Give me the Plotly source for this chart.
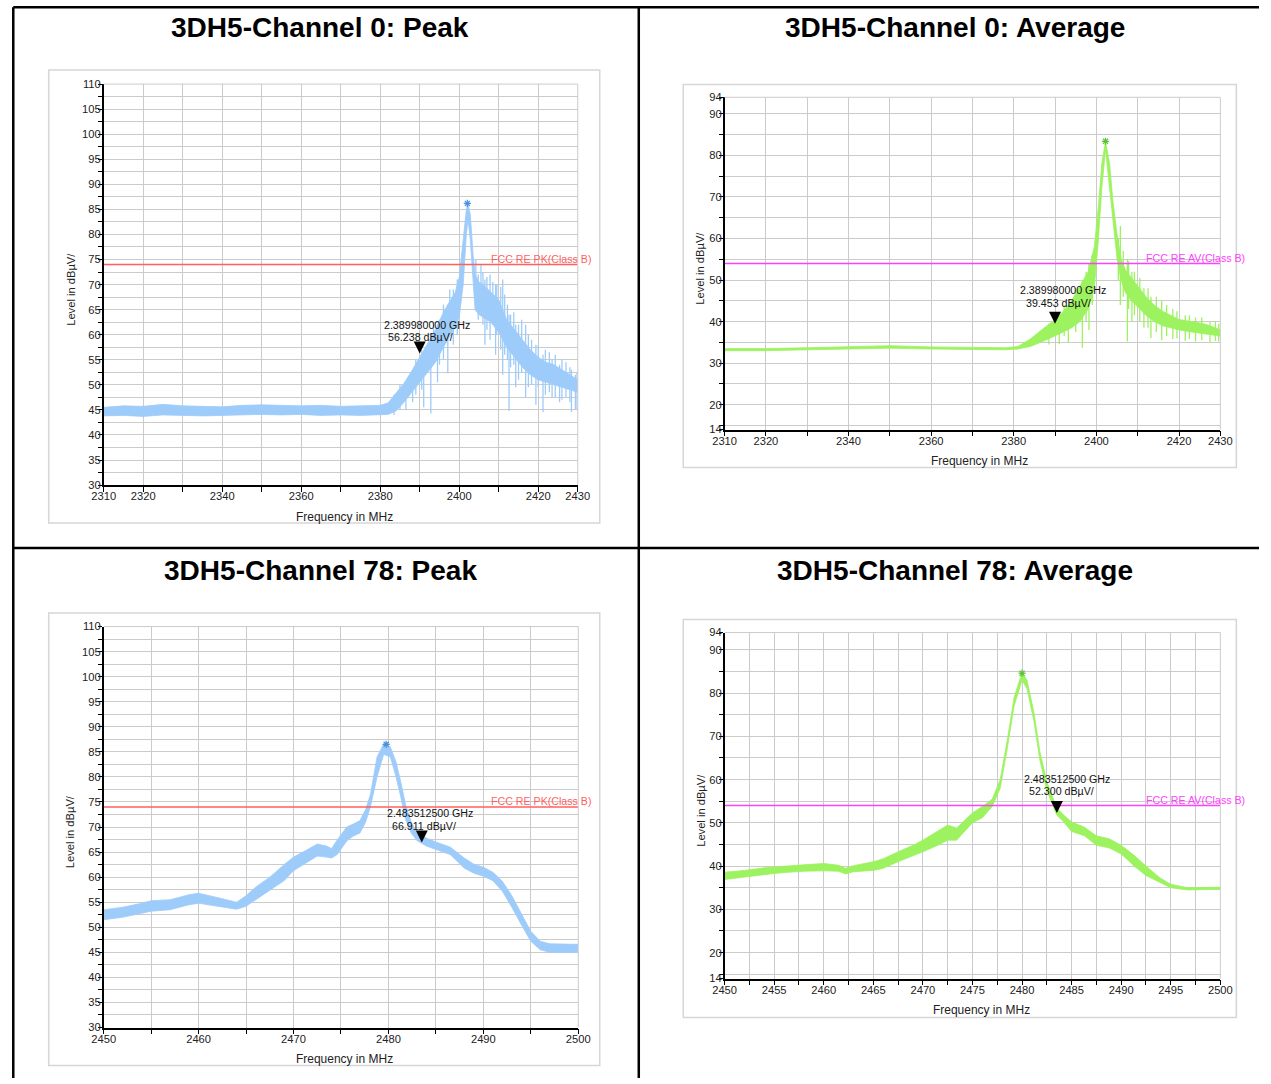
import plotly.graph_objects as go

# ---------------- data ----------------
titles = ["3DH5-Channel 0: Peak", "3DH5-Channel 0: Average",
          "3DH5-Channel 78: Peak", "3DH5-Channel 78: Average"]
x_title = "Frequency in MHz"
y_title = "Level in dBµV/"

limit_pk = 74.0
limit_av = 54.0
limit_pk_label = "FCC RE PK(Class B)"
limit_av_label = "FCC RE AV(Class B)"

# Channel 0 peak: noisy band (lower / upper envelope) + noise spikes
c0pk_f = [2310, 2315, 2320, 2325, 2330, 2335, 2340, 2345, 2350, 2355, 2360, 2365, 2370, 2375, 2380,
          2382, 2384, 2386, 2388, 2390, 2392, 2394, 2396, 2398, 2399, 2400, 2401, 2401.8, 2402.2,
          2402.8, 2403.5, 2404, 2405, 2406, 2408, 2410, 2412, 2414, 2416, 2418, 2420, 2422, 2424,
          2426, 2428, 2430]
c0pk_lo = [43.8, 43.9, 43.7, 44.0, 43.9, 43.8, 43.9, 44.0, 44.1, 44.0, 44.1, 43.9, 44.0, 43.9, 44.0,
           44.1, 44.8, 46.5, 48.5, 50.5, 52.5, 54.5, 57.5, 60.0, 61.5, 63.5, 70.0, 80.0, 83.0,
           79.0, 70.0, 65.0, 64.0, 63.5, 62.5, 60.5, 57.5, 55.5, 53.5, 52.0, 51.0, 50.5, 50.0,
           49.5, 49.0, 48.5]
c0pk_hi = [45.5, 45.8, 45.7, 46.1, 45.8, 45.7, 45.6, 45.9, 46.0, 45.9, 45.8, 45.9, 45.7, 45.8, 45.9,
           46.4, 48.3, 50.3, 52.8, 55.5, 58.2, 61.0, 64.5, 67.0, 68.5, 71.5, 79.0, 85.0, 86.2,
           84.0, 76.0, 72.0, 70.5, 70.0, 68.5, 67.0, 63.0, 61.0, 59.0, 57.0, 55.5, 54.5, 54.0,
           53.0, 52.0, 51.0]
c0pk_spk_f = [2383.5, 2385.0, 2386.5, 2388.2, 2389.0, 2390.5, 2391.0, 2392.8, 2393.5, 2394.5, 2395.0,
              2396.0, 2397.1, 2397.6, 2398.5, 2399.5, 2404.2, 2404.8, 2405.5, 2406.0, 2406.5, 2407.0,
              2407.8, 2408.5, 2409.2, 2409.5, 2410.5, 2411.0, 2411.5, 2412.2, 2412.6, 2413.0, 2413.8,
              2414.3, 2415.0, 2415.8, 2416.8, 2417.5, 2418.3, 2419.4, 2420.0, 2421.2, 2421.8, 2422.8,
              2423.5, 2424.3, 2425.4, 2426.0, 2427.0, 2428.0, 2428.4, 2429.4, 2429.8]
c0pk_spk_top = [48.0, 50.0, 50.0, 53.0, 55.0, 57.0, 56.0, 59.0, 62.5, 62.0, 63.0,
                66.0, 66.0, 69.0, 69.0, 71.0, 75.0, 72.0, 74.0, 72.5, 71.0, 71.5,
                72.0, 70.5, 70.0, 70.0, 69.5, 71.0, 68.0, 66.0, 64.0, 64.0, 64.5,
                62.0, 62.0, 63.0, 62.0, 60.0, 59.0, 58.0, 58.0, 56.0, 57.0, 56.5,
                55.0, 56.0, 54.0, 55.0, 54.5, 53.5, 53.0, 52.0, 52.5]
c0pk_spk_bot = [44.0, 45.0, 45.0, 46.5, 48.0, 49.0, 45.5, 44.3, 56.0, 50.5, 54.0,
                55.0, 52.3, 62.0, 58.0, 60.0, 66.0, 63.0, 66.0, 62.0, 58.0, 61.0,
                59.0, 62.0, 56.0, 60.0, 57.0, 52.0, 56.0, 55.0, 44.8, 53.5, 54.0,
                49.5, 51.0, 52.5, 47.5, 49.5, 50.0, 46.0, 49.5, 44.6, 48.0, 48.5,
                47.5, 47.5, 46.5, 47.0, 47.5, 46.5, 44.6, 45.2, 45.0]

# Channel 0 average
c0av_f = [2310, 2320, 2330, 2340, 2350, 2360, 2370, 2378, 2381, 2384, 2387, 2390, 2392, 2394, 2396,
          2398, 2399.5, 2400.5, 2401.3, 2402.2, 2403.2, 2404, 2405, 2406, 2407, 2408.5, 2410, 2412,
          2414, 2416, 2418, 2420, 2423, 2426, 2428, 2430]
c0av_lo = [33.0, 33.0, 33.2, 33.4, 33.6, 33.4, 33.3, 33.2, 33.4, 34.0, 35.2, 36.5, 37.5, 38.5, 40.0,
           43.0, 48.0, 60.0, 72.0, 81.5, 72.0, 63.0, 55.0, 50.0, 47.0, 45.0, 43.5, 41.5,
           40.0, 39.0, 38.5, 38.0, 37.5, 37.0, 36.8, 36.5]
c0av_hi = [33.5, 33.5, 33.7, 33.9, 34.2, 33.9, 33.8, 33.7, 34.0, 35.8, 38.2, 40.5, 42.5, 45.0, 48.5,
           52.0, 58.0, 68.0, 78.0, 83.4, 78.0, 69.0, 61.0, 55.0, 52.5, 50.5, 48.5, 46.0,
           44.0, 42.5, 41.5, 40.5, 40.0, 39.5, 38.8, 38.0]
c0av_spk_f = [2388.5, 2391.0, 2392.2, 2393.2, 2395.0, 2396.6, 2397.5, 2398.2, 2399.0, 2405.3, 2405.8,
              2406.5, 2407.5, 2407.8, 2408.6, 2409.2, 2410.5, 2411.5, 2412.5, 2413.2, 2414.5, 2415.8,
              2417.0, 2418.5, 2419.5, 2421.5, 2422.5, 2424.0, 2425.5, 2427.5, 2428.8, 2429.6]
c0av_spk_top = [39.5, 42.0, 44.0, 44.0, 48.0, 50.0, 52.0, 54.0, 56.0, 60.0, 63.0,
                57.0, 55.0, 54.5, 52.0, 52.0, 50.5, 48.0, 48.0, 46.0, 46.0, 45.0,
                44.0, 43.0, 42.5, 41.5, 41.5, 41.0, 41.0, 40.0, 40.0, 39.5]
c0av_spk_bot = [34.5, 34.6, 36.5, 35.0, 37.5, 33.7, 40.0, 38.0, 44.0, 50.0, 44.0,
                46.0, 35.2, 43.0, 40.0, 41.5, 40.0, 38.5, 38.5, 36.0, 37.5, 35.5,
                36.5, 35.8, 36.0, 35.4, 35.8, 35.2, 35.5, 35.0, 35.3, 35.2]

# Channel 78 peak
c78pk_f = [2450, 2452, 2454, 2455, 2457, 2459, 2460, 2461, 2462.5, 2464, 2465, 2466, 2467.5, 2469,
           2470, 2471, 2472.5, 2473.5, 2474, 2474.6, 2475.6, 2476.3, 2477, 2477.6, 2478.1, 2478.8,
           2479.5, 2480.2, 2480.8, 2481.3, 2481.8, 2482.4, 2483, 2484, 2485, 2486.5, 2488, 2489,
           2490, 2491, 2492, 2493, 2494, 2495, 2496, 2497, 2500]
c78pk_lo = [51.5, 52.0, 52.8, 53.2, 53.5, 54.5, 54.8, 54.5, 54.0, 53.6, 54.2, 55.5, 57.5, 59.3,
            61.3, 62.5, 64.2, 64.0, 63.8, 64.5, 67.2, 68.2, 68.8, 71.0, 74.0, 80.0,
            84.5, 84.0, 80.0, 76.0, 71.5, 68.8, 67.3, 66.2, 65.5, 64.5, 61.8, 60.8,
            60.2, 59.3, 57.2, 54.0, 50.5, 47.2, 45.5, 45.0, 45.0]
c78pk_hi = [53.5, 54.0, 54.8, 55.3, 55.5, 56.5, 56.8, 56.3, 55.7, 55.0, 56.3, 58.0, 60.0, 62.5,
            64.0, 65.0, 66.6, 66.2, 65.7, 67.4, 70.0, 70.6, 71.3, 73.5, 76.5, 84.0,
            86.6, 86.0, 83.0, 79.0, 74.5, 71.0, 68.7, 67.8, 67.0, 66.0, 63.8, 62.6,
            62.0, 61.0, 59.2, 56.3, 52.8, 49.2, 47.2, 46.7, 46.6]

# Channel 78 average
c78av_f = [2450, 2452, 2454, 2455, 2456, 2458, 2460, 2461.5, 2462.2, 2463, 2465, 2466, 2467.5, 2469,
           2470, 2471.5, 2472.5, 2473.4, 2474, 2475, 2476, 2477, 2477.8, 2478.5, 2479.2, 2480,
           2480.5, 2481.2, 2481.8, 2482.5, 2483.5, 2484.2, 2485, 2486.3, 2487.5, 2488.8, 2490,
           2491.3, 2492.5, 2493.9, 2495, 2496.7, 2500]
c78av_lo = [36.9, 37.5, 38.0, 38.3, 38.5, 38.8, 38.9, 38.8, 38.2, 38.7, 39.0, 39.5, 41.0, 42.3,
            43.3, 44.8, 46.0, 46.0, 47.5, 50.0, 51.2, 53.8, 58.0, 67.0, 77.0, 83.0,
            81.0, 73.5, 64.5, 57.5, 51.8, 50.2, 48.0, 47.0, 44.8, 44.2, 42.8,
            40.0, 37.8, 36.3, 35.0, 34.5, 34.6]
c78av_hi = [38.6, 39.0, 39.6, 39.8, 40.0, 40.3, 40.6, 40.2, 39.5, 40.1, 41.0, 41.7, 43.3, 44.8,
            46.0, 48.0, 49.5, 48.8, 50.2, 52.3, 53.8, 55.5, 60.0, 69.0, 79.0, 84.8,
            83.0, 75.5, 66.5, 59.5, 53.5, 51.8, 50.2, 49.0, 47.0, 46.3, 44.8,
            42.5, 40.0, 37.3, 35.8, 35.0, 35.1]

# peak stars and delta markers
peak_f = [2402.05, 2402.2, 2479.76, 2480.0]
peak_l = [86.2, 83.4, 86.5, 84.6]
mark_f = [2389.98, 2389.98, 2483.5125, 2483.5125]
mark_l = [56.238, 39.453, 66.911, 52.300]

# tick values / labels
x0_ticks = [2310, 2320, 2340, 2360, 2380, 2400, 2420, 2430]
x0_minor = [2330, 2350, 2370, 2390, 2410]
x78pk_ticks = [2450, 2460, 2470, 2480, 2490, 2500]
x78pk_minor = [2455, 2465, 2475, 2485, 2495]
x78av_ticks = [2450, 2455, 2460, 2465, 2470, 2475, 2480, 2485, 2490, 2495, 2500]
x78av_minor = [2452.5, 2457.5, 2462.5, 2467.5, 2472.5, 2477.5, 2482.5, 2487.5, 2492.5, 2497.5]
ypk_ticks = [30, 35, 40, 45, 50, 55, 60, 65, 70, 75, 80, 85, 90, 95, 100, 105, 110]
ypk_minor = [32.5, 37.5, 42.5, 47.5, 52.5, 57.5, 62.5, 67.5, 72.5, 77.5, 82.5, 87.5, 92.5, 97.5,
             102.5, 107.5]
yav_ticks = [14, 20, 30, 40, 50, 60, 70, 80, 90, 94]
yav_minor = [15, 25, 35, 45, 55, 65, 75, 85]

# ---------------- layout helpers ----------------
W, H = 1271, 1084
# the photographed page is slightly shrunk and framed; map target pixels to page pixels
SX, SY = 0.981, 0.989
OX, OY = 11.8, 5.4
FS = 1.0 / 0.985

FONT = "Liberation Sans, Arial, sans-serif"
BLUE = "#9ECCFA"
BLUE_D = "#4A90E2"
GREEN = "#9DF260"
GREEN_D = "#5DC43A"
RED = "#FF5F5F"
MAG = "#FF40FF"
GRID = "#CBCBCB"


def fx(px):
    return min(max(((px - OX) / SX) / W, 0.0), 1.0)


def fy(py):
    return min(max(1 - ((py - OY) / SY) / H, 0.0), 1.0)


# plot areas (left, top, right, bottom) in px, panel boxes, title centre, y-title x, x-title centre shift
panels = [
    dict(plot=(103.5, 83.5, 577.5, 484.5), box=(48.5, 69.5, 599.5, 522.5), title_xy=(320, 27),
         ytx=70, xtdx=4),
    dict(plot=(724.3, 96.7, 1220.0, 429.0), box=(683.0, 84.0, 1236.0, 467.0), title_xy=(955, 27),
         ytx=700, xtdx=7.5),
    dict(plot=(103.5, 626.0, 578.0, 1027.0), box=(48.5, 612.5, 599.5, 1065.0), title_xy=(320, 570),
         ytx=70, xtdx=4),
    dict(plot=(724.3, 632.0, 1220.0, 978.0), box=(683.0, 619.0, 1236.0, 1017.0), title_xy=(955, 570),
         ytx=700, xtdx=9),
]

cfg = [
    dict(xr=[2310, 2430], yr=[30, 110], xt=x0_ticks, xm=x0_minor, yt=ypk_ticks, ym=ypk_minor,
         f=c0pk_f, lo=c0pk_lo, hi=c0pk_hi, col=BLUE, dcol=BLUE_D, lim=limit_pk, lcol=RED,
         llab=limit_pk_label, sf=c0pk_spk_f, st=c0pk_spk_top, sb=c0pk_spk_bot, labx=491,
         t1=(7, -28), t2=(1, -16.5)),
    dict(xr=[2310, 2430], yr=[14, 94], xt=x0_ticks, xm=x0_minor, yt=yav_ticks, ym=yav_minor,
         f=c0av_f, lo=c0av_lo, hi=c0av_hi, col=GREEN, dcol=GREEN_D, lim=limit_av, lcol=MAG,
         llab=limit_av_label, sf=c0av_spk_f, st=c0av_spk_top, sb=c0av_spk_bot, labx=1146,
         t1=(8, -33), t2=(3, -21)),
    dict(xr=[2450, 2500], yr=[30, 110], xt=x78pk_ticks, xm=x78pk_minor, yt=ypk_ticks, ym=ypk_minor,
         f=c78pk_f, lo=c78pk_lo, hi=c78pk_hi, col=BLUE, dcol=BLUE_D, lim=limit_pk, lcol=RED,
         llab=limit_pk_label, sf=[], st=[], sb=[], labx=491, t1=(8, -29), t2=(2, -16.5)),
    dict(xr=[2450, 2500], yr=[14, 94], xt=x78av_ticks, xm=x78av_minor, yt=yav_ticks, ym=yav_minor,
         f=c78av_f, lo=c78av_lo, hi=c78av_hi, col=GREEN, dcol=GREEN_D, lim=limit_av, lcol=MAG,
         llab=limit_av_label, sf=[], st=[], sb=[], labx=1146, t1=(10, -34), t2=(5, -21.5)),
]

fig = go.Figure()
annotations = []
shapes = []


def fmt(v):
    return f"{v:g}"


for i, (p, c) in enumerate(zip(panels, cfg)):
    n = "" if i == 0 else str(i + 1)
    xa, ya = "x" + n, "y" + n
    L, T, R, B = p["plot"]

    # band of the measured trace
    fig.add_trace(go.Scatter(x=c["f"], y=c["lo"], mode="lines", line=dict(color=c["col"], width=0.8),
                             xaxis=xa, yaxis=ya, showlegend=False, hoverinfo="skip"))
    fig.add_trace(go.Scatter(x=c["f"], y=c["hi"], mode="lines", line=dict(color=c["col"], width=0.8),
                             fill="tonexty", fillcolor=c["col"],
                             xaxis=xa, yaxis=ya, showlegend=False, hoverinfo="skip"))
    # noise spikes
    if c["sf"]:
        sx, sy = [], []
        for f, t, b in zip(c["sf"], c["st"], c["sb"]):
            sx += [f, f, None]
            sy += [t, b, None]
        fig.add_trace(go.Scatter(x=sx, y=sy, mode="lines", line=dict(color=c["col"], width=1.3),
                                 xaxis=xa, yaxis=ya, showlegend=False, hoverinfo="skip"))
    # limit line
    fig.add_trace(go.Scatter(x=c["xr"], y=[c["lim"], c["lim"]], mode="lines",
                             line=dict(color=c["lcol"], width=1.5),
                             xaxis=xa, yaxis=ya, showlegend=False, hoverinfo="skip"))
    # peak star
    fig.add_trace(go.Scatter(x=[peak_f[i]], y=[peak_l[i]], mode="markers",
                             marker=dict(symbol="asterisk-open", size=6, color=c["dcol"],
                                         line=dict(color=c["dcol"], width=1.2)),
                             xaxis=xa, yaxis=ya, showlegend=False, hoverinfo="skip"))
    # delta marker (tip of the arrow at the value)
    fig.add_trace(go.Scatter(x=[mark_f[i]], y=[mark_l[i]], mode="markers",
                             marker=dict(symbol="arrow-down", size=12, color="black",
                                         line=dict(width=0)),
                             xaxis=xa, yaxis=ya, showlegend=False, hoverinfo="skip"))

    # axes
    xd = dict(domain=[fx(L), fx(R)], range=c["xr"], anchor=ya,
              tickvals=c["xt"], ticktext=[fmt(v) for v in c["xt"]],
              ticks="outside", ticklen=5, tickcolor="black", tickwidth=1,
              showline=True, linecolor="black", linewidth=1.5,
              showgrid=True, gridcolor=GRID, gridwidth=1, zeroline=False,
              tickfont=dict(family=FONT, size=11 * FS, color="#222"),
              ticklabelstandoff=-5,
              minor=dict(tickvals=c["xm"], ticks="outside", ticklen=5, tickcolor="black",
                         showgrid=True, gridcolor=GRID, gridwidth=1),
              fixedrange=True)
    yd = dict(domain=[fy(B), fy(T)], range=c["yr"], anchor=xa,
              tickvals=c["yt"], ticktext=[fmt(v) for v in c["yt"]],
              ticks="outside", ticklen=4, tickcolor="black", tickwidth=1,
              showline=True, linecolor="black", linewidth=1.5,
              showgrid=True, gridcolor=GRID, gridwidth=1, zeroline=False,
              tickfont=dict(family=FONT, size=11 * FS, color="#222"),
              ticklabelstandoff=-5,
              minor=dict(tickvals=c["ym"], ticks="outside", ticklen=4, tickcolor="black",
                         showgrid=True, gridcolor=GRID, gridwidth=1),
              fixedrange=True)
    fig.layout["xaxis" + n] = xd
    fig.layout["yaxis" + n] = yd

    # right / top plot-area edges (gray)
    shapes.append(dict(type="line", xref="paper", yref="paper", x0=fx(R), x1=fx(R), y0=fy(B), y1=fy(T),
                       line=dict(color=GRID, width=1)))
    shapes.append(dict(type="line", xref="paper", yref="paper", x0=fx(L), x1=fx(R), y0=fy(T), y1=fy(T),
                       line=dict(color=GRID, width=1)))

    # panel box
    bl, bt, br, bb = p["box"]
    shapes.append(dict(type="rect", xref="paper", yref="paper", x0=fx(bl), x1=fx(br), y0=fy(bb), y1=fy(bt),
                       line=dict(color="#D6D6D6", width=1.5), layer="below"))

    # cell title
    tx, ty = p["title_xy"]
    annotations.append(dict(text="<b>" + titles[i] + "</b>", xref="paper", yref="paper",
                            x=fx(tx), y=fy(ty), xanchor="center", yanchor="middle", showarrow=False,
                            font=dict(family=FONT, size=27.6 * FS, color="black")))
    # axis titles
    annotations.append(dict(text=x_title, xref="paper", yref="paper", x=fx((L + R) / 2 + p["xtdx"]),
                            y=fy(B + 31.5), xanchor="center", yanchor="middle", showarrow=False,
                            font=dict(family=FONT, size=11.8 * FS, color="#222")))
    annotations.append(dict(text=y_title, xref="paper", yref="paper", x=fx(p["ytx"]),
                            y=fy((T + B) / 2 + 5), xanchor="center", yanchor="middle", showarrow=False,
                            textangle=-90, font=dict(family=FONT, size=11 * FS, color="#222")))
    # limit label
    annotations.append(dict(text=c["llab"], xref="paper", yref=ya, x=fx(c["labx"] - 2), y=c["lim"],
                            xanchor="left", yanchor="middle", yshift=5.5 / SY, showarrow=False,
                            font=dict(family=FONT, size=10.5 * FS, color=c["lcol"])))
    # delta marker text
    annotations.append(dict(text=f"{mark_f[i] / 1000:.9f} GHz", xref=xa, yref=ya, x=mark_f[i], y=mark_l[i],
                            xanchor="center", yanchor="middle", xshift=c["t1"][0] / SX,
                            yshift=-c["t1"][1] / SY, showarrow=False,
                            font=dict(family=FONT, size=10.5 * FS, color="#111")))
    annotations.append(dict(text=f"{mark_l[i]:.3f} dBµV/", xref=xa, yref=ya, x=mark_f[i], y=mark_l[i],
                            xanchor="center", yanchor="middle", xshift=c["t2"][0] / SX,
                            yshift=-c["t2"][1] / SY, showarrow=False,
                            font=dict(family=FONT, size=10.5 * FS, color="#111")))

# table borders
BW = 2.5
left_x = 1.3 / W
top_y = 1 - 1.3 / H
for (x0, y0, x1, y1) in [(left_x, top_y, 1.0, top_y), (left_x, top_y, left_x, 0.0),
                         (fx(638.5), top_y, fx(638.5), 0.0), (left_x, fy(547.5), 1.0, fy(547.5))]:
    shapes.append(dict(type="line", xref="paper", yref="paper", x0=x0, x1=x1, y0=y0, y1=y1,
                       line=dict(color="black", width=BW)))

fig.update_layout(width=W, height=H, margin=dict(l=0, r=0, t=0, b=0),
                  paper_bgcolor="white", plot_bgcolor="white",
                  annotations=annotations, shapes=shapes, showlegend=False,
                  font=dict(family=FONT))

fig.write_html("out.html", config={"displayModeBar": False},
               post_script="document.body.style.margin='0';document.body.style.overflow='hidden';")
